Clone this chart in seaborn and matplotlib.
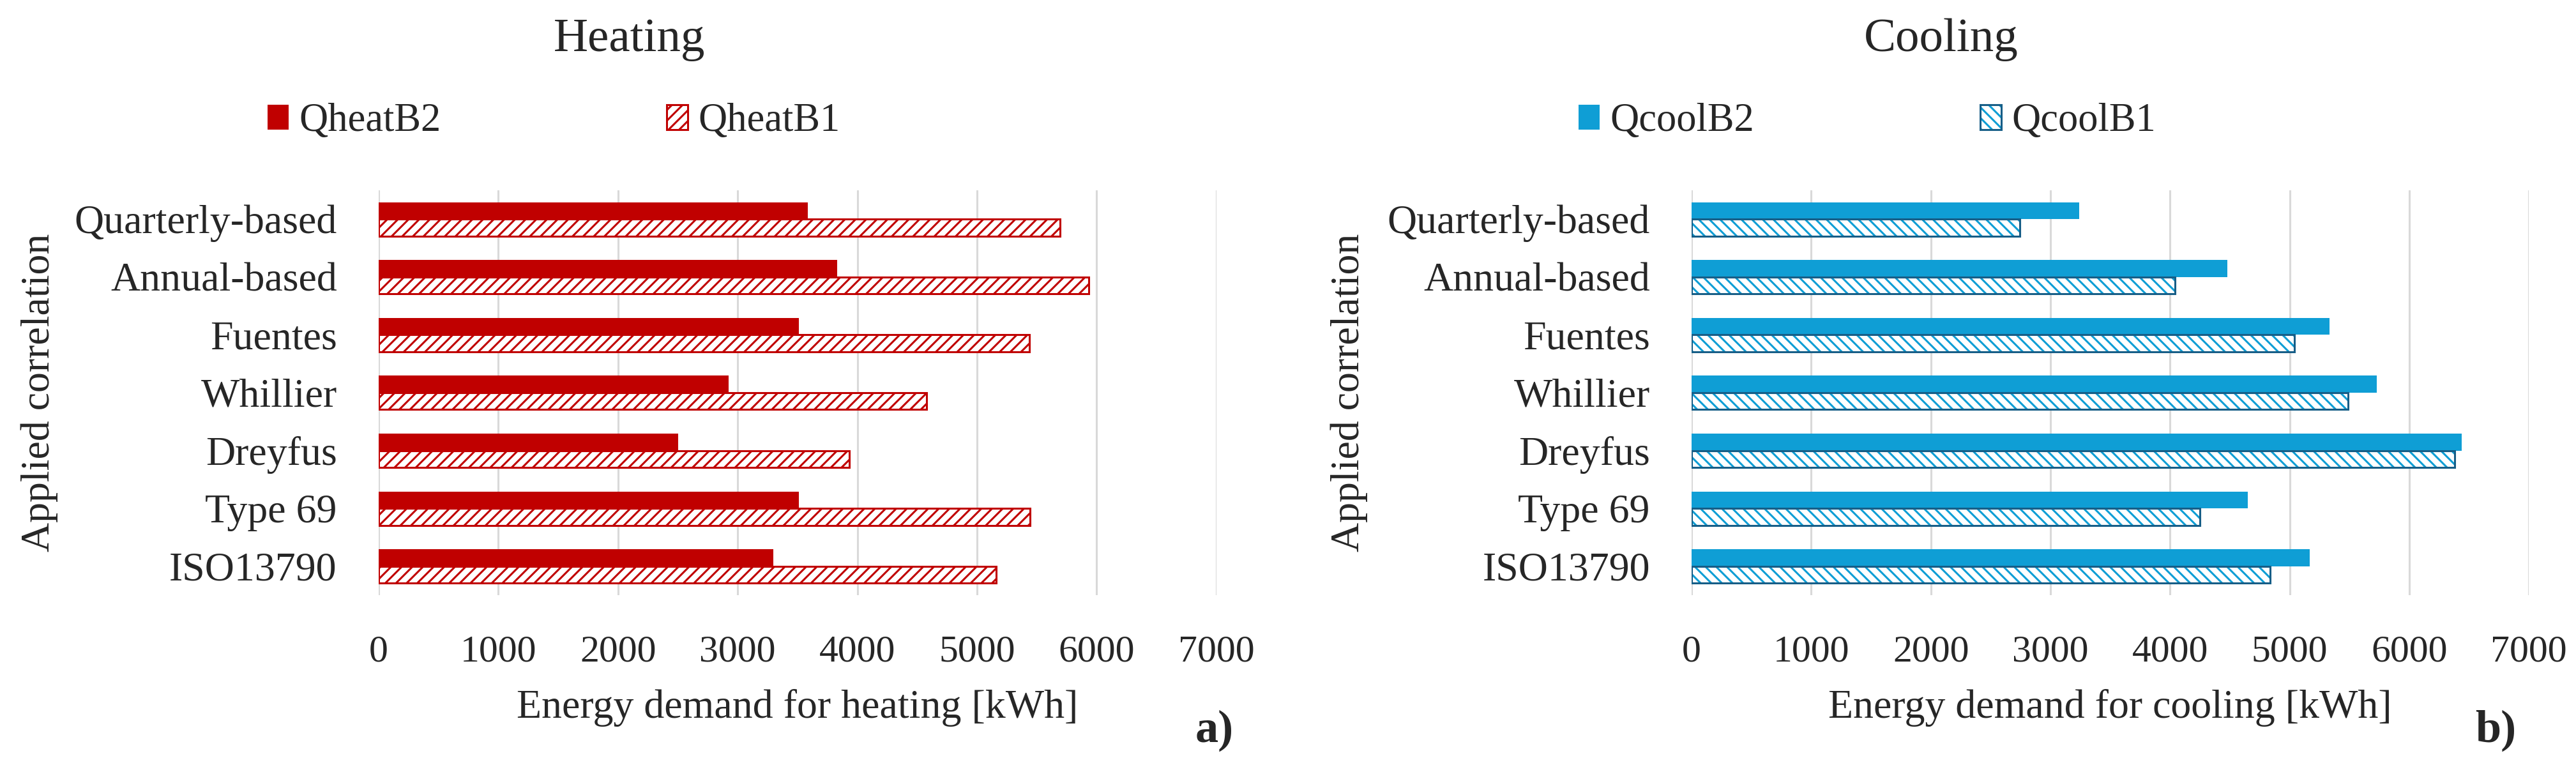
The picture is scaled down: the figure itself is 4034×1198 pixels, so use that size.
import numpy as np
import pandas as pd
import seaborn as sns
import matplotlib.pyplot as plt
import matplotlib.patches as mpatches
from matplotlib.patches import Rectangle

correlations = ['Quarterly-based', 'Annual-based', 'Fuentes', 'Whillier', 'Dreyfus', 'Type 69', 'ISO13790']
qheat_b2 = [3585, 3830, 3510, 2925, 2500, 3510, 3295]
qheat_b1 = [5695, 5935, 5440, 4580, 3930, 5445, 5160]
qcool_b2 = [3240, 4480, 5335, 5730, 6440, 4650, 5170]
qcool_b1 = [2745, 4040, 5040, 5490, 6380, 4250, 4835]
x_ticks = [0, 1000, 2000, 3000, 4000, 5000, 6000, 7000]

sns.set_theme(style='white')
plt.rcParams['font.family'] = ['Liberation Serif', 'DejaVu Serif']
plt.rcParams['hatch.linewidth'] = 2.2

heat_red = '#C00000'
cool_blue = '#0F9ED5'
cool_edge = '#175E87'


def make_df(b2, b1, n2, n1):
    return pd.DataFrame({'corr': correlations * 2,
                         'value': b2 + b1,
                         'series': [n2] * len(b2) + [n1] * len(b1)})


def draw(ax, df, names, fill, hatch, hatch_col, edge_col, xlabel, ylab_x, leg_x):
    sns.barplot(data=df, x='value', y='corr', hue='series', hue_order=names,
                order=correlations, orient='h', palette=[fill, fill], width=0.585,
                saturation=1, legend=False, ax=ax, zorder=2)
    for p in ax.containers[0]:
        p.set_linewidth(0)
    # hatched series: white fill, coloured hatch, outline drawn on top
    for p in ax.containers[1]:
        p.set_facecolor('white')
        p.set_edgecolor(hatch_col)
        p.set_hatch(hatch)
        p.set_linewidth(0)
        ax.add_patch(Rectangle(p.get_xy(), p.get_width(), p.get_height(), fill=False,
                               ec=edge_col, lw=2.2, zorder=3))
    ax.set_xlim(0, 7000)
    ax.set_ylim(6.5, -0.5)
    ax.set_xticks(x_ticks)
    ax.xaxis.grid(True, color='#D9D9D9', lw=2.2)
    ax.set_axisbelow(True)
    sns.despine(ax=ax, left=True, bottom=True)
    ax.tick_params(axis='x', labelsize=43, pad=45, length=0)
    ax.tick_params(axis='y', labelsize=46, pad=47, length=0)
    ax.set_xlabel(xlabel, fontsize=46, labelpad=22)
    ax.set_ylabel('Applied correlation', fontsize=46)
    ax.yaxis.set_label_coords(ylab_x, 0.5)

    h1 = mpatches.Patch(facecolor=fill, edgecolor='none')
    h2 = (mpatches.Patch(facecolor='white', edgecolor=hatch_col, hatch=hatch, lw=0),
          mpatches.Patch(fill=False, edgecolor=edge_col, lw=2.2))
    ax.legend([h1, h2], names, loc='center', bbox_to_anchor=(leg_x, 0.841),
              bbox_transform=ax.figure.transFigure, ncol=2, frameon=False, fontsize=45,
              handlelength=0.53, handleheight=0.58, handletextpad=0.26, columnspacing=5.66)


fig = plt.figure(figsize=(40.34, 11.98), dpi=100)
ax1 = fig.add_axes([0.147, 0.222, 0.3252, 0.5293])
ax2 = fig.add_axes([0.6567, 0.222, 0.325, 0.5293])

draw(ax1, make_df(qheat_b2, qheat_b1, 'QheatB2', 'QheatB1'), ['QheatB2', 'QheatB1'],
     heat_red, '//', heat_red, heat_red, 'Energy demand for heating [kWh]', -0.383, 0.215)
draw(ax2, make_df(qcool_b2, qcool_b1, 'QcoolB2', 'QcoolB1'), ['QcoolB2', 'QcoolB1'],
     cool_blue, '\\\\', cool_blue, cool_edge, 'Energy demand for cooling [kWh]', -0.387, 0.7248)

fig.text(0.2442, 0.933, 'Heating', ha='center', va='baseline', fontsize=54)
fig.text(0.7536, 0.933, 'Cooling', ha='center', va='baseline', fontsize=54)
fig.text(0.4715, 0.03, 'a)', ha='center', va='baseline', fontsize=52, fontweight='bold')
fig.text(0.9688, 0.03, 'b)', ha='center', va='baseline', fontsize=52, fontweight='bold')

fig.savefig('out.png', dpi=100)
